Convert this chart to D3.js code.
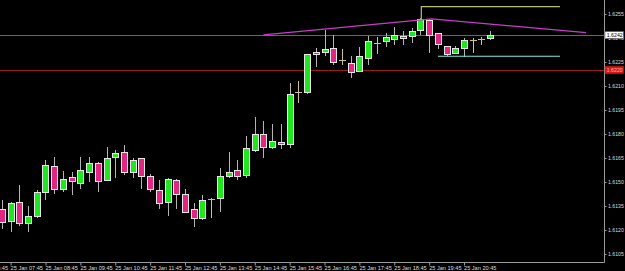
<!DOCTYPE html>
<html>
<head>
<meta charset="utf-8">
<script src="https://cdn.jsdelivr.net/npm/d3@7"></script>
<style>
  html, body { margin: 0; padding: 0; background: #000; }
  svg { display: block; }
</style>
</head>
<body>
<svg id="chart" width="625" height="271"></svg>
<script>
// GBPUSD-ish M15, 25 Jan, first bar 07:30
const startMinutes = 7 * 60 + 30;
const barMinutes = 15;

const open = [1.61329,1.61256,1.61373,1.61246,1.61286,1.61436,1.61598,1.61456,1.61529,1.61496,
  1.61564,1.61617,1.61514,1.61656,1.61689,1.61564,1.61648,1.61538,1.61448,1.61375,
  1.61513,1.61425,1.61329,1.61277,1.61392,1.61398,1.61538,1.61575,1.61544,1.61698,
  1.61798,1.61717,1.6175,1.61738,1.62063,1.62061,1.62313,1.62311,1.62339,1.62264,
  1.62246,1.62196,1.62277,1.62367,1.62379,1.62396,1.62411,1.62411,1.6245,1.62513,
  1.62429,1.62348,1.62308,1.62338,1.62388,1.62392,1.62398];
const high = [1.61388,1.61375,1.61481,1.6135,1.6145,1.61638,1.61656,1.61569,1.61561,1.61656,
  1.61658,1.61625,1.61719,1.61698,1.61729,1.61648,1.61653,1.6155,1.61513,1.61522,
  1.61521,1.61458,1.61367,1.61419,1.61398,1.61589,1.61689,1.61638,1.61788,1.61908,
  1.61881,1.61861,1.61861,1.62121,1.62131,1.62303,1.62338,1.62453,1.62419,1.62329,
  1.62289,1.62346,1.62414,1.62408,1.62433,1.62467,1.62444,1.62464,1.62525,1.62517,
  1.62431,1.6235,1.62348,1.624,1.62402,1.62406,1.62444];
const low = [1.61214,1.61194,1.61231,1.61194,1.61281,1.61394,1.61429,1.61444,1.61423,1.61464,
  1.61506,1.61444,1.61511,1.61533,1.61548,1.61529,1.61464,1.61446,1.61336,1.61294,
  1.61336,1.6131,1.61225,1.61267,1.61283,1.61319,1.61529,1.61517,1.61529,1.61696,
  1.61658,1.61714,1.61714,1.61717,1.62002,1.62058,1.62227,1.62293,1.62239,1.62239,
  1.62158,1.62194,1.62239,1.62308,1.62348,1.62364,1.62364,1.62377,1.62425,1.62311,
  1.62336,1.62292,1.62304,1.62289,1.62311,1.62363,1.62392];
const close = [1.61248,1.61367,1.61246,1.61288,1.61436,1.61604,1.61454,1.61517,1.61508,1.61575,
  1.61617,1.61506,1.61648,1.61679,1.61561,1.61636,1.61538,1.61454,1.61367,1.61519,
  1.61425,1.61314,1.61277,1.61386,1.61392,1.61538,1.61564,1.61538,1.61711,1.61798,
  1.61717,1.61756,1.61738,1.6205,1.62063,1.623,1.623,1.62329,1.62248,1.62264,
  1.62189,1.62289,1.62381,1.62367,1.62408,1.62419,1.62398,1.62442,1.62517,1.62421,
  1.62361,1.623,1.62338,1.62389,1.62388,1.62392,1.6242];

const xTickLabels = ["25 Jan 06:45","25 Jan 07:45","25 Jan 08:45","25 Jan 09:45","25 Jan 10:45",
  "25 Jan 11:45","25 Jan 12:45","25 Jan 13:45","25 Jan 14:45","25 Jan 15:45","25 Jan 16:45",
  "25 Jan 17:45","25 Jan 18:45","25 Jan 19:45","25 Jan 20:45"];
const yTicks = [1.6105,1.6120,1.6135,1.6150,1.6165,1.6180,1.6195,1.6210,1.6225,1.6240,1.6255];

const bidPrice = 1.6242;
const alertPrice = 1.6220;
// drawn objects: [bar index, price] pairs
const magentaLine = [[30, 1.62419], [49.3, 1.62519], [67, 1.62434]];
const oliveLine = [[48.1, 1.62517], [48.1, 1.62596], [64, 1.62596]];
const cyanLine = [[50, 1.62286], [64, 1.62286]];

const svg = d3.select("#chart");
const W = 625, H = 271;
const axisX = 604, axisY = 262;
const labelFont = "5.6px 'Liberation Sans', Arial, sans-serif";
const priceFont = "5.2px 'Liberation Sans', Arial, sans-serif";

svg.append("rect").attr("width", W).attr("height", H).attr("fill", "#000");

var x = d3.scaleLinear().domain([0, 56]).range([1.9, 490.2]);
var y = d3.scaleLinear().domain([1.6105, 1.6255]).range([254, 14]);

const px = v => Math.round(v) + 0.5;

const plot = svg.append("g");

// horizontal price lines
plot.append("line")
  .attr("x1", 0).attr("x2", axisX)
  .attr("y1", px(y(bidPrice))).attr("y2", px(y(bidPrice)))
  .attr("stroke", "#666").attr("stroke-width", 1);
plot.append("line")
  .attr("x1", 0).attr("x2", axisX)
  .attr("y1", px(y(alertPrice))).attr("y2", px(y(alertPrice)))
  .attr("stroke", "#9a1c1c").attr("stroke-width", 1);

const idx = d3.range(open.length);

// wicks
plot.append("g")
  .selectAll("line")
  .data(idx)
  .join("line")
  .attr("x1", i => px(x(i))).attr("x2", i => px(x(i)))
  .attr("y1", i => Math.round(y(high[i])))
  .attr("y2", i => Math.round(y(low[i])) + 1)
  .attr("stroke", i => open[i] === close[i] ? "#d2c08c" : "#b4b4b4")
  .attr("stroke-width", 1)
  .attr("shape-rendering", "crispEdges");

// bodies
plot.append("g")
  .selectAll("rect")
  .data(idx.filter(i => open[i] !== close[i]))
  .join("rect")
  .attr("x", i => Math.round(x(i)) - 2.5)
  .attr("y", i => Math.round(y(Math.max(open[i], close[i]))) + 0.5)
  .attr("width", 6)
  .attr("height", i => Math.max(1, Math.round(y(Math.min(open[i], close[i]))) - Math.round(y(Math.max(open[i], close[i])))))
  .attr("fill", i => close[i] > open[i] ? "#1fe61f" : "#e3267f")
  .attr("stroke", "#e6e6e6")
  .attr("stroke-width", 1)
  .attr("shape-rendering", "crispEdges");

// doji crosses
plot.append("g")
  .selectAll("line")
  .data(idx.filter(i => open[i] === close[i]))
  .join("line")
  .attr("x1", i => Math.round(x(i)) - 3).attr("x2", i => Math.round(x(i)) + 4)
  .attr("y1", i => px(y(open[i]))).attr("y2", i => px(y(open[i])))
  .attr("stroke", "#d2c08c").attr("stroke-width", 1);

// trend objects
const objLine = d3.line().x(d => x(d[0])).y(d => y(d[1]));
plot.append("path").attr("d", objLine(magentaLine))
  .attr("fill", "none").attr("stroke", "#c83cc8").attr("stroke-width", 1.3);
plot.append("path").attr("d", objLine(oliveLine))
  .attr("fill", "none").attr("stroke", "#bdbd72").attr("stroke-width", 1.2);
plot.append("path").attr("d", objLine(cyanLine))
  .attr("fill", "none").attr("stroke", "#86e8e8").attr("stroke-width", 1.2);

// right price axis
var yAxis = d3.axisRight(y)
  .tickValues(yTicks)
  .tickSize(2)
  .tickPadding(1.5)
  .tickFormat(d3.format(".4f"));

svg.append("g")
  .attr("transform", "translate(" + (axisX + 0.5) + ",0)")
  .call(yAxis)
  .call(g => g.select(".domain").attr("stroke", "#9a9a9a").attr("d", "M0,0V" + (axisY + 0.5)))
  .call(g => g.selectAll(".tick line").attr("stroke", "#9a9a9a"))
  .call(g => g.selectAll(".tick text").attr("fill", "#dcdcdc").style("font", priceFont));

// bottom time axis
const tickIndex = xTickLabels.map(s => {
  const hm = s.slice(-5).split(":");
  return (+hm[0] * 60 + +hm[1] - startMinutes) / barMinutes;
});

var xAxis = d3.axisBottom(x)
  .tickValues(tickIndex)
  .tickSize(3)
  .tickPadding(1)
  .tickFormat((d, i) => xTickLabels[i]);

svg.append("g")
  .attr("transform", "translate(0," + (axisY + 0.5) + ")")
  .call(xAxis)
  .call(g => g.select(".domain").attr("stroke", "#9a9a9a").attr("d", "M0,0H" + (axisX + 0.5)))
  .call(g => g.selectAll(".tick line").attr("stroke", "#9a9a9a"))
  .call(g => g.selectAll(".tick text").attr("fill", "#dcdcdc")
    .attr("text-anchor", "start")
    .attr("dx", -0.5)
    .style("font", labelFont));

// price labels on axis
function priceTag(price, bg, fg) {
  const g = svg.append("g").attr("transform", "translate(" + (axisX + 1) + "," + Math.round(y(price)) + ")");
  g.append("rect").attr("x", 0).attr("y", -3.5).attr("width", 18.5).attr("height", 7)
    .attr("fill", bg).attr("stroke", bg === "#ffffff" ? "#444" : bg).attr("stroke-width", 0.5);
  g.append("text").attr("x", 1.8).attr("y", 2).attr("fill", fg)
    .style("font", priceFont)
    .text(d3.format(".4f")(price));
}
priceTag(bidPrice, "#ffffff", "#000");
priceTag(alertPrice, "#d81818", "#ffb0b0");
</script>
</body>
</html>
